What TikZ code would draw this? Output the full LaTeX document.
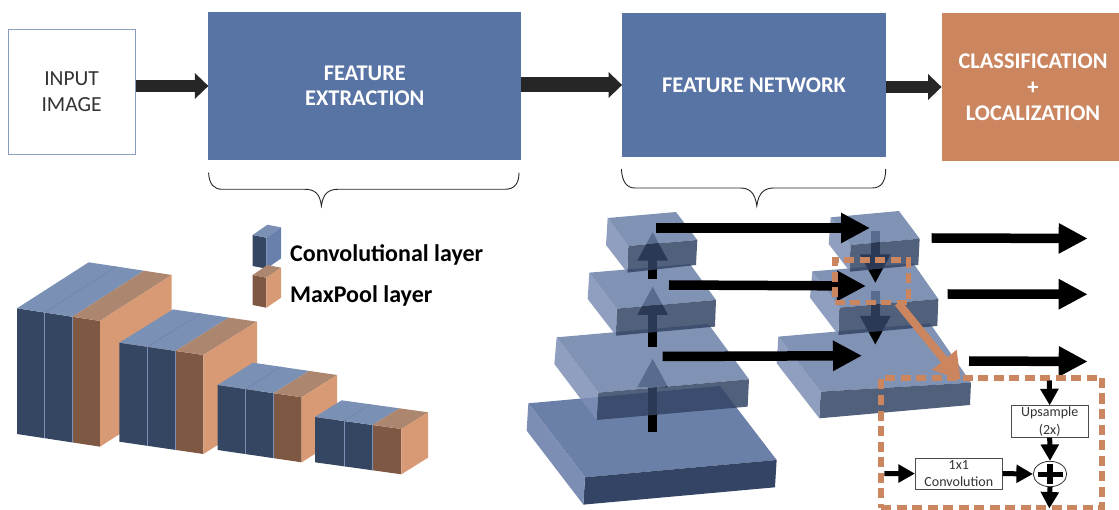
\documentclass[tikz,border=0pt]{standalone}
\usepackage{fontspec}
\setmainfont{Carlito}
\usetikzlibrary{arrows.meta,shapes.geometric}
\definecolor{boxblue}{HTML}{5874A4}
\definecolor{boxorange}{HTML}{CB8660}
\definecolor{frontblue}{HTML}{354663}
\definecolor{topblue}{HTML}{7A90B5}
\definecolor{sideblue}{HTML}{6880AB}
\definecolor{frontor}{HTML}{7F5843}
\definecolor{sideor}{HTML}{D89A75}
\definecolor{topor}{HTML}{AC866E}
\definecolor{plateT}{HTML}{6A80A8}
\definecolor{plateF}{HTML}{334464}
\definecolor{plateL}{HTML}{7D8EB5}
\definecolor{arrowgrey}{HTML}{262626}
\tikzset{
  x=1pt,y=-1pt,
  bigbox/.style={rectangle,draw=#1,fill=#1,line width=.8pt,inner sep=0pt,text=white,align=center,
    font=\fontsize{22.4}{25.5}\selectfont\bfseries},
  inputbox/.style={rectangle,draw=boxblue!70,fill=white,line width=.9pt,inner sep=0pt,text=black!80,align=center,
    font=\fontsize{21.5}{26}\selectfont},
  smallbox/.style={rectangle,draw=black!70,fill=white,line width=.8pt,inner sep=0pt,text=black!80,align=center,
    font=\fontsize{14}{17.3}\selectfont},
  legendtext/.style={anchor=west,inner sep=0pt,text=black,font=\fontsize{24}{26}\selectfont\bfseries},
  flowarrow/.style={draw=arrowgrey,line width=#1,-{Triangle[length=13.5pt,width=25pt]}},
  flowarrow/.default=12.5pt,
  heavyarrow/.style={draw=black,line width=9.5pt,-{Triangle[length=29pt,width=28.5pt]}},
  tinyarrow/.style={draw=black,line width=5pt,-{Triangle[length=16.5pt,width=17.5pt]}},
  dashbox/.style={draw=boxorange,line width=#1,dash pattern=on 10pt off 5.5pt},
  bracepath/.style={draw=black!85,line width=.9pt},
}
\newcommand{\lcell}[9]{%
  \fill[#8] ({#1},{#2}) -- ({#1+#3},{#2+#4}) -- ({#1+#3},{#2+#4+#5}) -- ({#1},{#2+#5}) -- cycle;
  \fill[#9] ({#1},{#2}) -- ({#1+#6},{#2+#7}) -- ({#1+#6+#3},{#2+#7+#4}) -- ({#1+#3},{#2+#4}) -- cycle;
}
\newcommand{\lstack}[7]{%
  \lcell{#1}{#2}{#3}{#4}{#5}{#6}{#7}{frontblue}{topblue}
  \lcell{(#1+#3)}{(#2+#4)}{#3}{#4}{#5}{#6}{#7}{frontblue}{topblue}
  \lcell{(#1+2*#3)}{(#2+2*#4)}{#3}{#4}{#5}{#6}{#7}{frontor}{topor}
  \fill[sideor] ({#1+3*#3},{#2+3*#4}) -- ({#1+3*#3+#6},{#2+3*#4+#7}) -- ({#1+3*#3+#6},{#2+3*#4+#7+#5}) -- ({#1+3*#3},{#2+3*#4+#5}) -- cycle;
  \draw[topblue,line width=.5pt] ({#1+#3},{#2+#4}) -- ++(0,#5);
  \draw[topblue,line width=.5pt] ({#1+2*#3},{#2+2*#4}) -- ++(0,#5);
  \draw[sideblue,line width=.5pt] ({#1+#3},{#2+#4}) -- ++(#6,#7);
}
\newcommand{\plate}[8]{%
  \fill[plateT,fill opacity=#1] #2 -- #3 -- #4 -- #5 -- cycle;
  \fill[plateF,fill opacity=#1] #5 -- #4 -- #6 -- #7 -- cycle;
  \fill[plateL,fill opacity=#1] #2 -- #5 -- #7 -- #8 -- cycle;
}
\begin{document}
\begin{tikzpicture}
\useasboundingbox (0,0) rectangle (1119,510);
% top row
\node[inputbox,minimum width=127pt,minimum height=125pt] (input) at (71.6,91.5) {INPUT\\IMAGE};
\node[bigbox=boxblue,minimum width=312pt,minimum height=147pt] (extract) at (364.8,86) {FEATURE\\EXTRACTION};
\node[bigbox=boxblue,minimum width=263pt,minimum height=143.5pt] (network) at (754,85) {FEATURE NETWORK};
\node[bigbox=boxorange,minimum width=182pt,minimum height=147.5pt,font=\fontsize{22.4}{26}\selectfont\bfseries] (classify) at (1033,87) {CLASSIFICATION\\+\\LOCALIZATION};
\draw[flowarrow] (input.east |- extract.west) -- (extract.west);
\draw[flowarrow=15pt] (extract.east |- network.west) -- (network.west);
\draw[flowarrow] (network.east |- classify.west) -- (classify.west);
% braces
\draw[bracepath] (208.6,172.7) .. controls (209,184) and (214,189.3) .. (222,189.3) -- (305,189.3) .. controls (314,189.3) and (320,193) .. (321.4,206) .. controls (323,193) and (329,189.3) .. (338,189.3) -- (505,189.3) .. controls (514,189.3) and (519,184) .. (519,172.7);
\draw[bracepath] (621.4,169) .. controls (622,182) and (627,188) .. (635,188) -- (740,188) .. controls (749,188) and (755,192) .. (756.8,206) .. controls (758.5,192) and (765,188) .. (774,188) -- (872,188) .. controls (881,188) and (885.7,182) .. (885.7,169);
% legend
\lcell{252.7}{235}{13.7}{2.7}{31}{14.7}{-10.3}{frontblue}{topblue}
\fill[sideblue] (266.4,237.7) -- (281.1,227.4) -- (281.1,258.4) -- (266.4,268.7) -- cycle;
\lcell{252.7}{275}{13.7}{2.7}{30}{14.7}{-10}{frontor}{topor}
\fill[sideor] (266.4,277.7) -- (281.1,267.7) -- (281.1,297.7) -- (266.4,307.7) -- cycle;
\node[legendtext] (legconv) at (290,254.5) {Convolutional layer};
\node[legendtext] (legpool) at (290,296) {MaxPool layer};
% left stacks
\lstack{17}{308.3}{27.67}{4.22}{125.7}{71.7}{-46}
\lstack{119.3}{342.7}{28}{4.1}{99}{53.7}{-33.3}
\lstack{217.7}{385}{28}{4.1}{65}{35.3}{-22.3}
\lstack{315}{417}{28.8}{4}{45.3}{26.7}{-16.7}
% named ends for the pyramid connectors
\coordinate (a1s) at (652.7,432.3); \coordinate (a1e) at (652.7,358.3);
\coordinate (a2s) at (652.7,346.7); \coordinate (a2e) at (652.7,286);
\coordinate (a3s) at (652.7,279);   \coordinate (a3e) at (652.7,231.7);
\coordinate (r1s) at (875.3,230.7); \coordinate (r1e) at (875.3,283.3);
\coordinate (r2s) at (875.3,290.7); \coordinate (r2e) at (875.3,345);
\coordinate (h1s) at (655.7,228);   \coordinate (h1e) at (870,228);
\coordinate (h2s) at (669,285);     \coordinate (h2e) at (866,286);
\coordinate (h3s) at (662.7,356.5); \coordinate (h3e) at (862,355.7);
\coordinate (o1s) at (931.7,238);   \coordinate (o1e) at (1087.7,238.5);
\coordinate (o2s) at (947.7,294);   \coordinate (o2e) at (1087.7,294.3);
\coordinate (o3s) at (969,361);     \coordinate (o3e) at (1087.7,361.5);
% left pyramid
\begin{scope}[shift={(520,200)},x=.3333pt,y=-.3333pt]
\plate{1}{(25,610)}{(600,558)}{(770,780)}{(195,832)}{(765,862)}{(190,914)}{(20,692)}
\end{scope}
\draw[heavyarrow] (a1s) -- (a1e);
\begin{scope}[shift={(520,200)},x=.3333pt,y=-.3333pt]
\plate{.85}{(110,412)}{(565,372)}{(687,538)}{(235,578)}{(683,620)}{(230,660)}{(103,492)}
\end{scope}
\draw[heavyarrow] (a2s) -- (a2e);
\begin{scope}[shift={(520,200)},x=.3333pt,y=-.3333pt]
\plate{.85}{(208,218)}{(510,192)}{(588,300)}{(290,326)}{(585,380)}{(288,407)}{(203,297)}
\end{scope}
\draw[heavyarrow] (a3s) -- (a3e);
\begin{scope}[shift={(520,200)},x=.3333pt,y=-.3333pt]
\plate{.85}{(263,54)}{(468,36)}{(532,120)}{(325,138)}{(528,195)}{(322,218)}{(258,135)}
\end{scope}
% right pyramid
\begin{scope}[shift={(770,200)},x=.3333pt,y=-.3333pt]
\plate{.85}{(25,410)}{(480,370)}{(603,548)}{(152,575)}{(600,615)}{(148,655)}{(20,490)}
\end{scope}
\draw[heavyarrow] (r2s) -- (r2e);
\begin{scope}[shift={(770,200)},x=.3333pt,y=-.3333pt]
\plate{.85}{(127,214)}{(430,190)}{(505,297)}{(208,323)}{(502,378)}{(205,405)}{(120,293)}
\end{scope}
\draw[heavyarrow] (r1s) -- (r1e);
\begin{scope}[shift={(770,200)},x=.3333pt,y=-.3333pt]
\plate{.85}{(182,52)}{(387,33)}{(449,116)}{(241,135)}{(445,195)}{(240,215)}{(176,132)}
\end{scope}
% horizontal arrows
\draw[heavyarrow] (h1s) -- (h1e);
\draw[heavyarrow] (h2s) -- (h2e);
\draw[heavyarrow] (h3s) -- (h3e);
\draw[heavyarrow] (o1s) -- (o1e);
\draw[heavyarrow] (o2s) -- (o2e);
\draw[heavyarrow] (o3s) -- (o3e);
% orange dashed frames and link
\node[dashbox=5.5pt,rectangle,minimum width=73.5pt,minimum height=42.7pt,inner sep=0pt] (zoomsrc) at (871.7,281.3) {};
\coordinate (zoomtip) at (960.7,380);
\coordinate (zoomstart) at (898,303);
\draw[draw=boxorange,line width=8pt,-{Triangle[length=26pt,width=30pt]}] (zoomstart) -- (zoomtip);
\node[dashbox=5.5pt,rectangle,minimum width=221pt,minimum height=130pt,inner sep=0pt] (detail) at (991.5,443) {};
% detail contents
\node[smallbox,minimum width=76.7pt,minimum height=31.6pt] (up) at (1049.7,421.5) {Upsample\\(2x)};
\node[smallbox,minimum width=87pt,minimum height=31.3pt] (conv) at (958.8,473.6) {1x1\\Convolution};
\node[ellipse,draw=black!80,fill=white,line width=.8pt,minimum width=33.4pt,minimum height=25.4pt,inner sep=0pt] (sum) at (1050,474) {};
\draw[black,line width=5pt] ([xshift=-12.5pt]sum.center) -- ([xshift=12.5pt]sum.center);
\draw[black,line width=6pt] ([yshift=-10pt]sum.center) -- ([yshift=10pt]sum.center);
\coordinate (dtop) at (1049.3,380.5);
\coordinate (dbot) at (1049.3,508.5);
\coordinate (dleft) at (884.3,473.5);
\draw[tinyarrow] (dtop) -- (up.north);
\draw[tinyarrow] (up.south) -- (sum.north);
\draw[tinyarrow] (sum.south) -- (dbot);
\draw[tinyarrow] (dleft) -- (conv.west);
\draw[tinyarrow] (conv.east) -- (sum.west);
\end{tikzpicture}
\end{document}
